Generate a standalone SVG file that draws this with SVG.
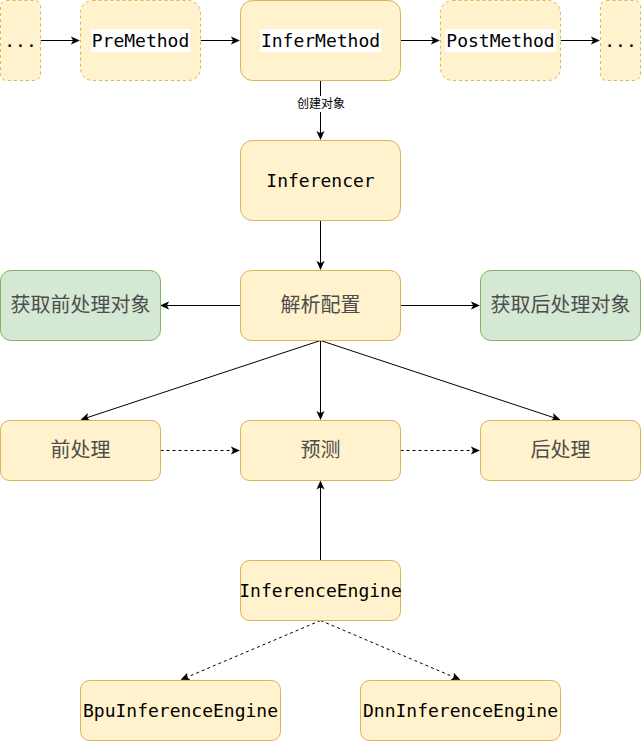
<svg xmlns="http://www.w3.org/2000/svg" width="641" height="741" viewBox="0 0 641 741">
  <defs>
    <style>
      .y { fill: #fff2cc; stroke: #d6b656; stroke-width: 1; }
      .g { fill: #d5e8d4; stroke: #82b366; stroke-width: 1; }
      .dash { stroke-dasharray: 3 3; }
      .mono { font-family: "DejaVu Sans Mono", "Liberation Mono", monospace; font-size: 18px; fill: #000; text-anchor: middle; }
      .cn { font-family: "Noto Sans CJK SC", "Noto Sans", sans-serif; font-size: 20px; fill: #4d4d4d; text-anchor: middle; }
      .lbl { font-family: "Noto Sans CJK SC", "Noto Sans", sans-serif; font-size: 12px; fill: #000; text-anchor: middle; }
      .bg { fill: #ffffff; }
      .edge { fill: none; stroke: #000; stroke-width: 1; }
      .edge.dashed { stroke-dasharray: 3 3; }
    </style>
    <marker id="arrow" viewBox="0 0 10 10" refX="9" refY="5" markerWidth="9" markerHeight="9" markerUnits="userSpaceOnUse" orient="auto">
      <path d="M0,0.5 L10,5 L0,9.5 L2.5,5 Z" fill="#000"/>
    </marker>
  </defs>

  <!-- connectors -->
  <g id="edges">
    <path class="edge" d="M40.5,40.5 H79" marker-end="url(#arrow)"/>
    <path class="edge" d="M200.5,40.5 H239" marker-end="url(#arrow)"/>
    <path class="edge" d="M400.5,40.5 H439" marker-end="url(#arrow)"/>
    <path class="edge" d="M560.5,40.5 H599" marker-end="url(#arrow)"/>
    <path class="edge" d="M320.5,80.5 V139" marker-end="url(#arrow)"/>
    <path class="edge" d="M320.5,220.5 V269" marker-end="url(#arrow)"/>
    <path class="edge" d="M240.5,305.5 H161" marker-end="url(#arrow)"/>
    <path class="edge" d="M400.5,305.5 H479" marker-end="url(#arrow)"/>
    <path class="edge" d="M320.5,340.5 L81.5,419.5" marker-end="url(#arrow)"/>
    <path class="edge" d="M320.5,340.5 V419" marker-end="url(#arrow)"/>
    <path class="edge" d="M320.5,340.5 L559.5,419.5" marker-end="url(#arrow)"/>
    <path class="edge dashed" d="M160.5,450.5 H239" marker-end="url(#arrow)"/>
    <path class="edge dashed" d="M400.5,450.5 H479" marker-end="url(#arrow)"/>
    <path class="edge" d="M320.5,560.5 V481.5" marker-end="url(#arrow)"/>
    <path class="edge dashed" d="M320.5,620.5 L181.5,679.5" marker-end="url(#arrow)"/>
    <path class="edge dashed" d="M320.5,620.5 L459.5,679.5" marker-end="url(#arrow)"/>
    <rect class="bg" x="295" y="96" width="52" height="16"/>
    <text class="lbl" x="321" y="108">创建对象</text>
  </g>

  <!-- pipeline row -->
  <g id="prev">
    <rect class="y dash" x="0.5" y="0.5" width="40" height="80" rx="6"/>
    <text class="mono" x="20.5" y="47">...</text>
  </g>
  <g id="pre-method">
    <rect class="y dash" x="80.5" y="0.5" width="120" height="80" rx="12"/>
    <rect class="bg" x="91" y="29" width="99" height="23"/>
    <text class="mono" x="140.5" y="47">PreMethod</text>
  </g>
  <g id="infer-method">
    <rect class="y" x="240.5" y="0.5" width="160" height="80" rx="12"/>
    <rect class="bg" x="260" y="29" width="121" height="23"/>
    <text class="mono" x="320.5" y="47">InferMethod</text>
  </g>
  <g id="post-method">
    <rect class="y dash" x="440.5" y="0.5" width="120" height="80" rx="12"/>
    <rect class="bg" x="445" y="29" width="111" height="23"/>
    <text class="mono" x="500.5" y="47">PostMethod</text>
  </g>
  <g id="next">
    <rect class="y dash" x="600.5" y="0.5" width="40" height="80" rx="6"/>
    <text class="mono" x="620.5" y="47">...</text>
  </g>

  <g id="inferencer">
    <rect class="y" x="240.5" y="140.5" width="160" height="80" rx="12"/>
    <text class="mono" x="320.5" y="187">Inferencer</text>
  </g>

  <g id="parse-config">
    <rect class="y" x="240.5" y="270.5" width="160" height="70" rx="10.5"/>
    <text class="cn" x="320.5" y="312">解析配置</text>
  </g>
  <g id="get-pre">
    <rect class="g" x="0.5" y="270.5" width="160" height="70" rx="10.5"/>
    <text class="cn" x="80.5" y="312">获取前处理对象</text>
  </g>
  <g id="get-post">
    <rect class="g" x="480.5" y="270.5" width="160" height="70" rx="10.5"/>
    <text class="cn" x="560.5" y="312">获取后处理对象</text>
  </g>

  <g id="preprocess">
    <rect class="y" x="0.5" y="420.5" width="160" height="60" rx="9"/>
    <text class="cn" x="80.5" y="457">前处理</text>
  </g>
  <g id="predict">
    <rect class="y" x="240.5" y="420.5" width="160" height="60" rx="9"/>
    <text class="cn" x="320.5" y="457">预测</text>
  </g>
  <g id="postprocess">
    <rect class="y" x="480.5" y="420.5" width="160" height="60" rx="9"/>
    <text class="cn" x="560.5" y="457">后处理</text>
  </g>

  <g id="inference-engine">
    <rect class="y" x="240.5" y="560.5" width="160" height="60" rx="9"/>
    <text class="mono" x="320.5" y="597">InferenceEngine</text>
  </g>
  <g id="bpu-engine">
    <rect class="y" x="80.5" y="680.5" width="200" height="60" rx="9"/>
    <text class="mono" x="180.5" y="717">BpuInferenceEngine</text>
  </g>
  <g id="dnn-engine">
    <rect class="y" x="360.5" y="680.5" width="200" height="60" rx="9"/>
    <text class="mono" x="460.5" y="717">DnnInferenceEngine</text>
  </g>
</svg>
